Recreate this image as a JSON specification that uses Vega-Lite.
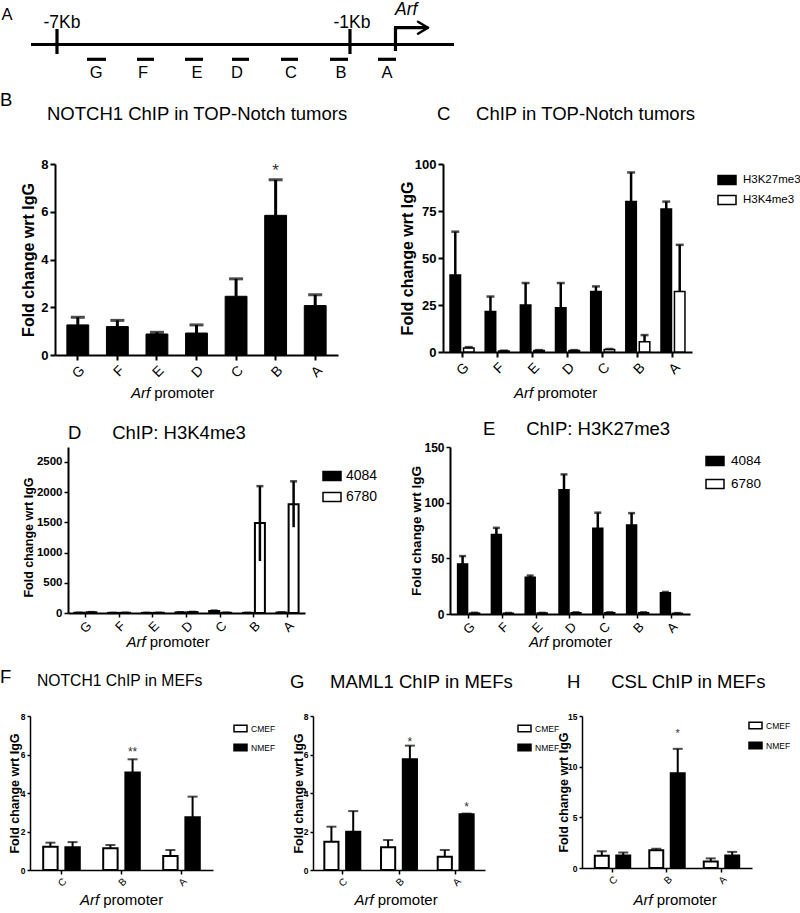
{
 "$schema": "https://vega.github.io/schema/vega-lite/v6.json",
 "padding": 0,
 "background": "white",
 "spacing": 0,
 "resolve": {"scale": {"fill": "independent", "xOffset": "independent"}, "legend": {"fill": "independent"}},
 "config": {
  "view": {"stroke": null},
  "font": "Liberation Sans",
  "axis": {"grid": false, "domainColor": "black", "tickColor": "black", "labelColor": "black", "titleColor": "black", "labelFont": "Liberation Sans", "titleFont": "Liberation Sans"},
  "title": {"color": "black", "font": "Liberation Sans", "fontWeight": "normal", "baseline": "bottom", "anchor": "start", "frame": "group"},
  "legend": {"labelColor": "black", "labelFont": "Liberation Sans"},
  "text": {"font": "Liberation Sans", "color": "black"}
 },
 "datasets": {
  "seg": [
   {"x": -7.532, "x2": 1.130, "y": 41.5, "y2": 41.5, "part": "line"},
   {"x": -7, "x2": -7, "y": 57, "y2": 32, "part": "tick"},
   {"x": -1, "x2": -1, "y": 57, "y2": 32, "part": "tick"},
   {"x": -0.068, "x2": -0.068, "y": 58.3, "y2": 35, "part": "tss"},
   {"x": -0.099, "x2": 0.578, "y": 58.3, "y2": 58.3, "part": "tss"},
   {"x": 0.393, "x2": 0.598, "y": 64.3, "y2": 58.3, "part": "arm"},
   {"x": 0.393, "x2": 0.598, "y": 52.3, "y2": 58.3, "part": "arm"},
   {"x": -6.385, "x2": -5.996, "y": 26.7, "y2": 26.7, "part": "region"},
   {"x": -5.361, "x2": -5.013, "y": 26.7, "y2": 26.7, "part": "region"},
   {"x": -4.378, "x2": -4.010, "y": 26.7, "y2": 26.7, "part": "region"},
   {"x": -3.416, "x2": -3.068, "y": 26.7, "y2": 26.7, "part": "region"},
   {"x": -2.413, "x2": -2.064, "y": 26.7, "y2": 26.7, "part": "region"},
   {"x": -1.409, "x2": -1.040, "y": 26.7, "y2": 26.7, "part": "region"},
   {"x": -0.426, "x2": -0.057, "y": 26.7, "y2": 26.7, "part": "region"}
  ],
  "txt": [
   {"x": -6.897, "y": 63.2, "label": "-7Kb", "kind": "kb"},
   {"x": -0.958, "y": 63.2, "label": "-1Kb", "kind": "kb"},
   {"x": -0.078, "y": 76, "label": "Arf", "kind": "gene"},
   {"x": -8.024, "y": 71, "label": "A", "kind": "reg"},
   {"x": -6.200, "y": 13.3, "label": "G", "kind": "reg"},
   {"x": -5.238, "y": 13.3, "label": "F", "kind": "reg"},
   {"x": -4.132, "y": 13.3, "label": "E", "kind": "reg"},
   {"x": -3.313, "y": 13.3, "label": "D", "kind": "reg"},
   {"x": -2.208, "y": 13.3, "label": "C", "kind": "reg"},
   {"x": -1.184, "y": 13.3, "label": "B", "kind": "reg"},
   {"x": -0.242, "y": 13.3, "label": "A", "kind": "reg"}
  ],
  "B": [
   {"site": "G", "value": 1.26, "hi": 1.58},
   {"site": "F", "value": 1.19, "hi": 1.45},
   {"site": "E", "value": 0.88, "hi": 0.95},
   {"site": "D", "value": 0.92, "hi": 1.26},
   {"site": "C", "value": 2.46, "hi": 3.19},
   {"site": "B", "value": 5.85, "hi": 7.34, "star": "*", "sy": 7.93},
   {"site": "A", "value": 2.07, "hi": 2.52}
  ],
  "C": [
   {"site": "G", "series": "H3K27me3", "value": 41, "hi": 64},
   {"site": "F", "series": "H3K27me3", "value": 21.5, "hi": 29.5},
   {"site": "E", "series": "H3K27me3", "value": 25, "hi": 36.7},
   {"site": "D", "series": "H3K27me3", "value": 23.6, "hi": 36.7},
   {"site": "C", "series": "H3K27me3", "value": 32.2, "hi": 34.9},
   {"site": "B", "series": "H3K27me3", "value": 80, "hi": 95.5},
   {"site": "A", "series": "H3K27me3", "value": 76, "hi": 80},
   {"site": "G", "series": "H3K4me3", "value": 2.1, "hi": 2.6},
   {"site": "F", "series": "H3K4me3", "value": 0.5, "hi": 0.7},
   {"site": "E", "series": "H3K4me3", "value": 0.8, "hi": 1.0},
   {"site": "D", "series": "H3K4me3", "value": 0.8, "hi": 1.0},
   {"site": "C", "series": "H3K4me3", "value": 1.3, "hi": 1.6},
   {"site": "B", "series": "H3K4me3", "value": 5.4, "hi": 9},
   {"site": "A", "series": "H3K4me3", "value": 32.2, "hi": 57}
  ],
  "D": [
   {"site": "G", "series": "4084", "value": 3, "lo": 3, "hi": 4},
   {"site": "F", "series": "4084", "value": 2, "lo": 2, "hi": 2.5},
   {"site": "E", "series": "4084", "value": 2, "lo": 2, "hi": 2.5},
   {"site": "D", "series": "4084", "value": 10, "lo": 10, "hi": 12},
   {"site": "C", "series": "4084", "value": 35, "lo": 35, "hi": 40},
   {"site": "B", "series": "4084", "value": 2, "lo": 2, "hi": 3},
   {"site": "A", "series": "4084", "value": 8, "lo": 8, "hi": 10},
   {"site": "G", "series": "6780", "value": 12, "lo": 12, "hi": 14},
   {"site": "F", "series": "6780", "value": 3, "lo": 3, "hi": 4},
   {"site": "E", "series": "6780", "value": 3, "lo": 3, "hi": 4},
   {"site": "D", "series": "6780", "value": 15, "lo": 15, "hi": 18},
   {"site": "C", "series": "6780", "value": 4, "lo": 4, "hi": 5},
   {"site": "B", "series": "6780", "value": 1490, "lo": 860, "hi": 2100},
   {"site": "A", "series": "6780", "value": 1800, "lo": 1420, "hi": 2180}
  ],
  "E": [
   {"site": "G", "series": "4084", "value": 45, "hi": 52},
   {"site": "F", "series": "4084", "value": 71.4, "hi": 77.4},
   {"site": "E", "series": "4084", "value": 33, "hi": 34.5},
   {"site": "D", "series": "4084", "value": 111.6, "hi": 125.4},
   {"site": "C", "series": "4084", "value": 77, "hi": 91},
   {"site": "B", "series": "4084", "value": 80, "hi": 90.6},
   {"site": "A", "series": "4084", "value": 19, "hi": 19.8},
   {"site": "G", "series": "6780", "value": 0.8, "hi": 1.1},
   {"site": "F", "series": "6780", "value": 0.7, "hi": 0.9},
   {"site": "E", "series": "6780", "value": 0.8, "hi": 1.0},
   {"site": "D", "series": "6780", "value": 1.2, "hi": 1.5},
   {"site": "C", "series": "6780", "value": 1.2, "hi": 1.5},
   {"site": "B", "series": "6780", "value": 1.2, "hi": 1.5},
   {"site": "A", "series": "6780", "value": 0.6, "hi": 0.8}
  ],
  "F": [
   {"site": "C", "series": "CMEF", "value": 1.21, "hi": 1.42},
   {"site": "B", "series": "CMEF", "value": 1.13, "hi": 1.30},
   {"site": "A", "series": "CMEF", "value": 0.73, "hi": 1.04},
   {"site": "C", "series": "NMEF", "value": 1.18, "hi": 1.45},
   {"site": "B", "series": "NMEF", "value": 5.06, "hi": 5.75, "star": "**", "sy": 6.34},
   {"site": "A", "series": "NMEF", "value": 2.74, "hi": 3.81}
  ],
  "G": [
   {"site": "C", "series": "CMEF", "value": 1.47, "hi": 2.25},
   {"site": "B", "series": "CMEF", "value": 1.18, "hi": 1.56},
   {"site": "A", "series": "CMEF", "value": 0.69, "hi": 1.04},
   {"site": "C", "series": "NMEF", "value": 1.99, "hi": 3.06},
   {"site": "B", "series": "NMEF", "value": 5.75, "hi": 6.46, "star": "*", "sy": 6.86},
   {"site": "A", "series": "NMEF", "value": 2.89, "hi": 2.93, "star": "*", "sy": 3.48}
  ],
  "H": [
   {"site": "C", "series": "CMEF", "value": 1.21, "hi": 1.65},
   {"site": "B", "series": "CMEF", "value": 1.75, "hi": 1.90},
   {"site": "A", "series": "CMEF", "value": 0.64, "hi": 0.95},
   {"site": "C", "series": "NMEF", "value": 1.24, "hi": 1.53},
   {"site": "B", "series": "NMEF", "value": 9.34, "hi": 11.76, "star": "*", "sy": 13.57},
   {"site": "A", "series": "NMEF", "value": 1.24, "hi": 1.59}
  ]
 },
 "vconcat": [
  {
   "spacing": 0, "bounds": "flush",
   "resolve": {"scale": {"fill": "independent", "xOffset": "independent"}, "legend": {"fill": "independent"}},
   "hconcat": [
    {
     "width": 480, "height": 85,
     "encoding": {
      "x": {"field": "x", "type": "quantitative", "scale": {"domain": [-8.167, 1.663], "nice": false, "zero": false}, "axis": null},
      "y": {"field": "y", "type": "quantitative", "scale": {"domain": [0, 85], "nice": false, "zero": false}, "axis": null}
     },
     "layer": [
      {"data": {"name": "seg"}, "transform": [{"filter": "datum.part != 'arm'"}], "mark": {"type": "rule", "strokeWidth": 3.2, "color": "black"}, "encoding": {"x2": {"field": "x2"}, "y2": {"field": "y2"}}},
      {"data": {"name": "seg"}, "transform": [{"filter": "datum.part == 'arm'"}], "mark": {"type": "rule", "strokeWidth": 2.5, "color": "black", "strokeCap": "round"}, "encoding": {"x2": {"field": "x2"}, "y2": {"field": "y2"}}},
      {"data": {"name": "txt"}, "transform": [{"filter": "datum.kind == 'kb'"}], "mark": {"type": "text", "fontSize": 17.5, "align": "center", "baseline": "middle"}, "encoding": {"text": {"field": "label"}}},
      {"data": {"name": "txt"}, "transform": [{"filter": "datum.kind == 'gene'"}], "mark": {"type": "text", "fontSize": 17.5, "fontStyle": "italic", "align": "left", "baseline": "middle"}, "encoding": {"text": {"field": "label"}}},
      {"data": {"name": "txt"}, "transform": [{"filter": "datum.kind == 'reg'"}], "mark": {"type": "text", "fontSize": 16.5, "align": "center", "baseline": "middle"}, "encoding": {"text": {"field": "label"}}}
     ]
    },
    {"width": 1, "height": 90, "data": {"values": []}, "mark": "point", "encoding": {}}
   ]
  },
  {
   "spacing": 0, "bounds": "flush",
   "resolve": {"scale": {"fill": "independent", "xOffset": "independent"}, "legend": {"fill": "independent"}},
   "hconcat": [
    {"width": 55, "height": 256, "data": {"values": []}, "mark": "point", "encoding": {}, "title": {"text": "B", "fontSize": 18.5, "offset": 54.5}},
    {
     "width": 283, "height": 191,
     "data": {"name": "B"},
     "title": {"text": "NOTCH1 ChIP in TOP-Notch tumors", "fontSize": 18.5, "dx": -8, "offset": 34.5},
     "resolve": {"axis": {"x": "independent"}},
     "encoding": {
      "x": {"field": "site", "type": "nominal", "sort": ["G","F","E","D","C","B","A"], "scale": {"paddingInner": 0.448, "paddingOuter": 0.3}, "axis": null}
     },
     "layer": [
      {"mark": {"type": "bar", "fill": "black", "stroke": "black", "strokeWidth": 1},
       "encoding": {
        "x": {"field": "site", "type": "nominal", "sort": ["G","F","E","D","C","B","A"], "scale": {"paddingInner": 0.448, "paddingOuter": 0.3},
              "axis": {"orient": "bottom", "title": "promoter", "titleX": 128.7, "titleY": 42.4, "titleBaseline": "alphabetic", "titleAlign": "center", "titleFontSize": 15, "titleFontWeight": "normal", "labelAngle": -45, "labelFontSize": 14, "labelPadding": 3, "tickSize": 5, "tickWidth": 2, "domainWidth": 2}},
        "y": {"field": "value", "type": "quantitative", "scale": {"domain": [0, 8], "nice": false},
              "axis": {"values": [0,2,4,6,8], "tickCount": 20, "format": "d", "labelOverlap": false, "title": "Fold change wrt IgG", "titleFontSize": 16, "titleFontWeight": "bold", "titleX": -21.5, "titleBaseline": "alphabetic", "labelFontSize": 13, "labelFontWeight": "bold", "labelPadding": 2, "tickSize": 5, "tickWidth": 2, "domainWidth": 2}}
       }},
      {"mark": {"type": "rule", "strokeWidth": 3, "color": "black"}, "encoding": {"y": {"field": "value", "type": "quantitative", "scale": {"domain": [0, 8], "nice": false}}, "y2": {"field": "hi"}}},
      {"mark": {"type": "tick", "thickness": 3, "size": 14, "color": "black"},
       "encoding": {
        "x": {"field": "site", "type": "nominal", "sort": ["G","F","E","D","C","B","A"], "scale": {"paddingInner": 0.448, "paddingOuter": 0.3},
              "axis": {"orient": "bottom", "title": "Arf", "titleFontStyle": "italic", "titleX": 85, "titleY": 42.4, "titleBaseline": "alphabetic", "titleAlign": "center", "titleFontSize": 15, "titleFontWeight": "normal", "labels": false, "ticks": false, "domain": false}},
        "y": {"field": "hi", "type": "quantitative", "scale": {"domain": [0, 8], "nice": false}}
       }},
      {"transform": [{"filter": "datum.star != null"}], "mark": {"type": "text", "fontSize": 17, "dy": 5, "color": "#333"}, "encoding": {"y": {"field": "sy", "type": "quantitative", "scale": {"domain": [0, 8], "nice": false}}, "text": {"field": "star"}}}
     ]
    },
    {"width": 105, "height": 1, "data": {"values": []}, "mark": "point", "encoding": {}},
    {
     "width": 249, "height": 188,
     "data": {"name": "C"},
     "title": {"text": "C\u00a0\u00a0\u00a0\u00a0\u00a0ChIP in TOP-Notch tumors", "fontSize": 18.5, "dx": -6, "offset": 34.5},
     "resolve": {"axis": {"x": "independent"}},
     "encoding": {
      "x": {"field": "site", "type": "nominal", "sort": ["G","F","E","D","C","B","A"], "scale": {"paddingInner": 0.318, "paddingOuter": 0.2}, "axis": null},
      "xOffset": {"field": "series", "type": "nominal", "sort": ["H3K27me3","H3K4me3"], "scale": {"paddingInner": 0.22, "paddingOuter": 0}}
     },
     "layer": [
      {"mark": {"type": "bar", "stroke": "black", "strokeWidth": 1.5},
       "encoding": {
        "x": {"field": "site", "type": "nominal", "sort": ["G","F","E","D","C","B","A"], "scale": {"paddingInner": 0.318, "paddingOuter": 0.2},
              "axis": {"orient": "bottom", "title": "promoter", "titleX": 123.7, "titleY": 45.4, "titleBaseline": "alphabetic", "titleAlign": "center", "titleFontSize": 15, "titleFontWeight": "normal", "labelAngle": -45, "labelFontSize": 14, "labelPadding": 3, "tickSize": 5, "tickWidth": 2, "domainWidth": 2}},
        "y": {"field": "value", "type": "quantitative", "scale": {"domain": [0, 100], "nice": false},
              "axis": {"values": [0,25,50,75,100], "tickCount": 20, "format": "d", "labelOverlap": false, "title": "Fold change wrt IgG", "titleFontSize": 16, "titleFontWeight": "bold", "titleX": -31, "titleBaseline": "alphabetic", "labelFontSize": 13, "labelFontWeight": "bold", "labelPadding": 2, "tickSize": 5, "tickWidth": 2, "domainWidth": 2}},
        "fill": {"field": "series", "type": "nominal", "scale": {"domain": ["H3K27me3","H3K4me3"], "range": ["black","white"]},
                 "legend": {"orient": "none", "legendX": 274, "legendY": 6, "title": null, "symbolType": "M-1,-0.5H1V0.5H-1Z", "symbolSize": 324, "labelFontSize": 11.5, "labelOffset": 6, "rowPadding": 2, "padding": 0,
                            "encode": {"symbols": {"update": {"stroke": {"value": "black"}, "strokeWidth": {"value": 1.5}}}}}}
       }},
      {"mark": {"type": "rule", "strokeWidth": 2.5, "color": "black"}, "encoding": {"y": {"field": "value", "type": "quantitative", "scale": {"domain": [0, 100], "nice": false}}, "y2": {"field": "hi"}}},
      {"mark": {"type": "tick", "thickness": 2.5, "size": 8, "color": "black"},
       "encoding": {
        "x": {"field": "site", "type": "nominal", "sort": ["G","F","E","D","C","B","A"], "scale": {"paddingInner": 0.318, "paddingOuter": 0.2},
              "axis": {"orient": "bottom", "title": "Arf", "titleFontStyle": "italic", "titleX": 80, "titleY": 45.4, "titleBaseline": "alphabetic", "titleAlign": "center", "titleFontSize": 15, "titleFontWeight": "normal", "labels": false, "ticks": false, "domain": false}},
        "y": {"field": "hi", "type": "quantitative", "scale": {"domain": [0, 100], "nice": false}}
       }}
     ]
    }
   ]
  },
  {
   "spacing": 0, "bounds": "flush",
   "resolve": {"scale": {"fill": "independent", "xOffset": "independent"}, "legend": {"fill": "independent"}},
   "hconcat": [
    {"width": 68, "height": 221, "data": {"values": []}, "mark": "point", "encoding": {}},
    {
     "width": 237, "height": 166,
     "data": {"name": "D"},
     "title": {"text": "D\u00a0\u00a0\u00a0\u00a0\u00a0\u00a0ChIP: H3K4me3", "fontSize": 18.5, "dx": 0, "offset": 5},
     "resolve": {"axis": {"x": "independent"}},
     "encoding": {
      "x": {"field": "site", "type": "nominal", "sort": ["G","F","E","D","C","B","A"], "scale": {"paddingInner": 0.347, "paddingOuter": 0.19}, "axis": null},
      "xOffset": {"field": "series", "type": "nominal", "sort": ["4084","6780"], "scale": {"paddingInner": 0.17, "paddingOuter": 0}}
     },
     "layer": [
      {"mark": {"type": "bar", "stroke": "black", "strokeWidth": 2},
       "encoding": {
        "x": {"field": "site", "type": "nominal", "sort": ["G","F","E","D","C","B","A"], "scale": {"paddingInner": 0.347, "paddingOuter": 0.19},
              "axis": {"orient": "bottom", "title": "promoter", "titleX": 111.2, "titleY": 33.4, "titleBaseline": "alphabetic", "titleAlign": "center", "titleFontSize": 15, "titleFontWeight": "normal", "labelAngle": -45, "labelFontSize": 13, "labelPadding": 2, "tickSize": 4, "tickWidth": 1.5, "domainWidth": 2}},
        "y": {"field": "value", "type": "quantitative", "scale": {"domain": [0, 2748], "nice": false},
              "axis": {"values": [0,500,1000,1500,2000,2500], "tickCount": 20, "format": "d", "labelOverlap": false, "title": "Fold change wrt IgG", "titleFontSize": 12.5, "titleFontWeight": "bold", "titleX": -36, "titleY": 90, "titleBaseline": "alphabetic", "labelFontSize": 11.5, "labelFontWeight": "bold", "labelPadding": 2, "tickSize": 4, "tickWidth": 1.5, "domainWidth": 2}},
        "fill": {"field": "series", "type": "nominal", "scale": {"domain": ["4084","6780"], "range": ["black","white"]},
                 "legend": {"orient": "none", "legendX": 254, "legendY": 19, "title": null, "symbolType": "M-1,-0.5H1V0.5H-1Z", "symbolSize": 324, "labelFontSize": 14, "labelOffset": 4, "rowPadding": 3, "padding": 0,
                            "encode": {"symbols": {"update": {"stroke": {"value": "black"}, "strokeWidth": {"value": 1.5}}}}}}
       }},
      {"mark": {"type": "rule", "strokeWidth": 2.5, "color": "black"}, "encoding": {"y": {"field": "lo", "type": "quantitative", "scale": {"domain": [0, 2748], "nice": false}}, "y2": {"field": "hi"}}},
      {"mark": {"type": "tick", "thickness": 2.5, "size": 7, "color": "black"},
       "encoding": {
        "x": {"field": "site", "type": "nominal", "sort": ["G","F","E","D","C","B","A"], "scale": {"paddingInner": 0.347, "paddingOuter": 0.19},
              "axis": {"orient": "bottom", "title": "Arf", "titleFontStyle": "italic", "titleX": 67.5, "titleY": 33.4, "titleBaseline": "alphabetic", "titleAlign": "center", "titleFontSize": 15, "titleFontWeight": "normal", "labels": false, "ticks": false, "domain": false}},
        "y": {"field": "hi", "type": "quantitative", "scale": {"domain": [0, 2748], "nice": false}}
       }}
     ]
    },
    {"width": 145, "height": 1, "data": {"values": []}, "mark": "point", "encoding": {}},
    {
     "width": 240, "height": 167,
     "data": {"name": "E"},
     "title": {"text": "E\u00a0\u00a0\u00a0\u00a0\u00a0\u00a0ChIP: H3K27me3", "fontSize": 18.5, "dx": 33, "offset": 2.5},
     "resolve": {"axis": {"x": "independent"}},
     "encoding": {
      "x": {"field": "site", "type": "nominal", "sort": ["G","F","E","D","C","B","A"], "scale": {"paddingInner": 0.35, "paddingOuter": 0.225}, "axis": null},
      "xOffset": {"field": "series", "type": "nominal", "sort": ["4084","6780"], "scale": {"paddingInner": 0.17, "paddingOuter": 0}}
     },
     "layer": [
      {"mark": {"type": "bar", "stroke": "black", "strokeWidth": 1.5},
       "encoding": {
        "x": {"field": "site", "type": "nominal", "sort": ["G","F","E","D","C","B","A"], "scale": {"paddingInner": 0.35, "paddingOuter": 0.225},
              "axis": {"orient": "bottom", "title": "promoter", "titleX": 131.7, "titleY": 32.4, "titleBaseline": "alphabetic", "titleAlign": "center", "titleFontSize": 15, "titleFontWeight": "normal", "labelAngle": -45, "labelFontSize": 13, "labelPadding": 2, "tickSize": 4, "tickWidth": 1.5, "domainWidth": 2}},
        "y": {"field": "value", "type": "quantitative", "scale": {"domain": [0, 150], "nice": false},
              "axis": {"values": [0,50,100,150], "tickCount": 20, "format": "d", "labelOverlap": false, "title": "Fold change wrt IgG", "titleFontSize": 13.5, "titleFontWeight": "bold", "titleX": -30, "titleBaseline": "alphabetic", "labelFontSize": 12, "labelFontWeight": "bold", "labelPadding": 2, "tickSize": 4, "tickWidth": 1.5, "domainWidth": 2}},
        "fill": {"field": "series", "type": "nominal", "scale": {"domain": ["4084","6780"], "range": ["black","white"]},
                 "legend": {"orient": "none", "legendX": 255, "legendY": 4, "title": null, "symbolType": "M-1,-0.5H1V0.5H-1Z", "symbolSize": 324, "labelFontSize": 13.5, "labelOffset": 6, "rowPadding": 5, "padding": 0,
                            "encode": {"symbols": {"update": {"stroke": {"value": "black"}, "strokeWidth": {"value": 1.5}}}}}}
       }},
      {"mark": {"type": "rule", "strokeWidth": 2.5, "color": "black"}, "encoding": {"y": {"field": "value", "type": "quantitative", "scale": {"domain": [0, 150], "nice": false}}, "y2": {"field": "hi"}}},
      {"mark": {"type": "tick", "thickness": 2.5, "size": 7, "color": "black"},
       "encoding": {
        "x": {"field": "site", "type": "nominal", "sort": ["G","F","E","D","C","B","A"], "scale": {"paddingInner": 0.35, "paddingOuter": 0.225},
              "axis": {"orient": "bottom", "title": "Arf", "titleFontStyle": "italic", "titleX": 88, "titleY": 32.4, "titleBaseline": "alphabetic", "titleAlign": "center", "titleFontSize": 15, "titleFontWeight": "normal", "labels": false, "ticks": false, "domain": false}},
        "y": {"field": "hi", "type": "quantitative", "scale": {"domain": [0, 150], "nice": false}}
       }}
     ]
    }
   ]
  },
  {
   "spacing": 0, "bounds": "flush",
   "resolve": {"scale": {"fill": "independent", "xOffset": "independent"}, "legend": {"fill": "independent"}},
   "hconcat": [
    {"width": 30, "height": 1, "data": {"values": []}, "mark": "point", "encoding": {}, "title": {"text": "F", "fontSize": 18.5, "offset": 29.5}},
    {
     "width": 183, "height": 154,
     "data": {"name": "F"},
     "title": {"text": "NOTCH1 ChIP in MEFs", "fontSize": 15.7, "dx": 7, "offset": 22},
     "resolve": {"axis": {"x": "independent"}},
     "encoding": {
      "x": {"field": "site", "type": "nominal", "sort": ["C","B","A"], "scale": {"paddingInner": 0.39, "paddingOuter": 0.22}, "axis": null},
      "xOffset": {"field": "series", "type": "nominal", "sort": ["CMEF","NMEF"], "scale": {"paddingInner": 0.35, "paddingOuter": 0}}
     },
     "layer": [
      {"mark": {"type": "bar", "stroke": "black", "strokeWidth": 2},
       "encoding": {
        "x": {"field": "site", "type": "nominal", "sort": ["C","B","A"], "scale": {"paddingInner": 0.39, "paddingOuter": 0.22},
              "axis": {"orient": "bottom", "title": "promoter", "titleX": 102.7, "titleY": 34.4, "titleBaseline": "alphabetic", "titleAlign": "center", "titleFontSize": 15, "titleFontWeight": "normal", "labelAngle": -45, "labelFontSize": 10, "labelPadding": 2, "tickSize": 4, "tickWidth": 1.5, "domainWidth": 1.5}},
        "y": {"field": "value", "type": "quantitative", "scale": {"domain": [0, 8], "nice": false},
              "axis": {"values": [0,2,4,6,8], "tickCount": 20, "format": "d", "labelOverlap": false, "title": "Fold change wrt IgG", "titleFontSize": 12.5, "titleFontWeight": "bold", "titleX": -12, "titleBaseline": "alphabetic", "labelFontSize": 8.5, "labelFontWeight": "bold", "labelPadding": 2, "tickSize": 3, "tickWidth": 1.5, "domainWidth": 1.5}},
        "fill": {"field": "series", "type": "nominal", "scale": {"domain": ["CMEF","NMEF"], "range": ["white","black"]},
                 "legend": {"orient": "none", "legendX": 203, "legendY": 5, "title": null, "symbolType": "M-1,-0.5H1V0.5H-1Z", "symbolSize": 169, "labelFontSize": 8.5, "labelOffset": 3, "rowPadding": 5, "padding": 0,
                            "encode": {"symbols": {"update": {"stroke": {"value": "black"}, "strokeWidth": {"value": 1.5}}}}}}
       }},
      {"mark": {"type": "rule", "strokeWidth": 2, "color": "black"}, "encoding": {"y": {"field": "value", "type": "quantitative", "scale": {"domain": [0, 8], "nice": false}}, "y2": {"field": "hi"}}},
      {"mark": {"type": "tick", "thickness": 2, "size": 10, "color": "black"},
       "encoding": {
        "x": {"field": "site", "type": "nominal", "sort": ["C","B","A"], "scale": {"paddingInner": 0.39, "paddingOuter": 0.22},
              "axis": {"orient": "bottom", "title": "Arf", "titleFontStyle": "italic", "titleX": 59, "titleY": 34.4, "titleBaseline": "alphabetic", "titleAlign": "center", "titleFontSize": 15, "titleFontWeight": "normal", "labels": false, "ticks": false, "domain": false}},
        "y": {"field": "hi", "type": "quantitative", "scale": {"domain": [0, 8], "nice": false}}
       }},
      {"transform": [{"filter": "datum.star != null"}], "mark": {"type": "text", "fontSize": 12, "dy": 3.6, "color": "#333"}, "encoding": {"y": {"field": "sy", "type": "quantitative", "scale": {"domain": [0, 8], "nice": false}}, "text": {"field": "star"}}}
     ]
    },
    {"width": 100, "height": 1, "data": {"values": []}, "mark": "point", "encoding": {}},
    {
     "width": 172, "height": 154,
     "data": {"name": "G"},
     "title": {"text": "G\u00a0\u00a0\u00a0\u00a0\u00a0MAML1 ChIP in MEFs", "fontSize": 18.5, "dx": -23, "offset": 20.5},
     "resolve": {"axis": {"x": "independent"}},
     "encoding": {
      "x": {"field": "site", "type": "nominal", "sort": ["C","B","A"], "scale": {"paddingInner": 0.366, "paddingOuter": 0.2}, "axis": null},
      "xOffset": {"field": "series", "type": "nominal", "sort": ["CMEF","NMEF"], "scale": {"paddingInner": 0.35, "paddingOuter": 0}}
     },
     "layer": [
      {"mark": {"type": "bar", "stroke": "black", "strokeWidth": 2},
       "encoding": {
        "x": {"field": "site", "type": "nominal", "sort": ["C","B","A"], "scale": {"paddingInner": 0.366, "paddingOuter": 0.2},
              "axis": {"orient": "bottom", "title": "promoter", "titleX": 94.2, "titleY": 34.4, "titleBaseline": "alphabetic", "titleAlign": "center", "titleFontSize": 15, "titleFontWeight": "normal", "labelAngle": -45, "labelFontSize": 10, "labelPadding": 2, "tickSize": 4, "tickWidth": 1.5, "domainWidth": 1.5}},
        "y": {"field": "value", "type": "quantitative", "scale": {"domain": [0, 8], "nice": false},
              "axis": {"values": [0,2,4,6,8], "tickCount": 20, "format": "d", "labelOverlap": false, "title": "Fold change wrt IgG", "titleFontSize": 12.5, "titleFontWeight": "bold", "titleX": -11, "titleBaseline": "alphabetic", "labelFontSize": 8.5, "labelFontWeight": "bold", "labelPadding": 2, "tickSize": 3, "tickWidth": 1.5, "domainWidth": 1.5}},
        "fill": {"field": "series", "type": "nominal", "scale": {"domain": ["CMEF","NMEF"], "range": ["white","black"]},
                 "legend": {"orient": "none", "legendX": 204, "legendY": 5, "title": null, "symbolType": "M-1,-0.5H1V0.5H-1Z", "symbolSize": 169, "labelFontSize": 8.5, "labelOffset": 3, "rowPadding": 5, "padding": 0,
                            "encode": {"symbols": {"update": {"stroke": {"value": "black"}, "strokeWidth": {"value": 1.5}}}}}}
       }},
      {"mark": {"type": "rule", "strokeWidth": 2, "color": "black"}, "encoding": {"y": {"field": "value", "type": "quantitative", "scale": {"domain": [0, 8], "nice": false}}, "y2": {"field": "hi"}}},
      {"mark": {"type": "tick", "thickness": 2, "size": 10, "color": "black"},
       "encoding": {
        "x": {"field": "site", "type": "nominal", "sort": ["C","B","A"], "scale": {"paddingInner": 0.366, "paddingOuter": 0.2},
              "axis": {"orient": "bottom", "title": "Arf", "titleFontStyle": "italic", "titleX": 50.5, "titleY": 34.4, "titleBaseline": "alphabetic", "titleAlign": "center", "titleFontSize": 15, "titleFontWeight": "normal", "labels": false, "ticks": false, "domain": false}},
        "y": {"field": "hi", "type": "quantitative", "scale": {"domain": [0, 8], "nice": false}}
       }},
      {"transform": [{"filter": "datum.star != null"}], "mark": {"type": "text", "fontSize": 12, "dy": 3.6, "color": "#333"}, "encoding": {"y": {"field": "sy", "type": "quantitative", "scale": {"domain": [0, 8], "nice": false}}, "text": {"field": "star"}}}
     ]
    },
    {"width": 97, "height": 1, "data": {"values": []}, "mark": "point", "encoding": {}},
    {
     "width": 170, "height": 152,
     "data": {"name": "H"},
     "title": {"text": "H\u00a0\u00a0\u00a0\u00a0\u00a0\u00a0CSL ChIP in MEFs", "fontSize": 18.5, "dx": -15, "offset": 20.5},
     "resolve": {"axis": {"x": "independent"}},
     "encoding": {
      "x": {"field": "site", "type": "nominal", "sort": ["C","B","A"], "scale": {"paddingInner": 0.35, "paddingOuter": 0.235}, "axis": null},
      "xOffset": {"field": "series", "type": "nominal", "sort": ["CMEF","NMEF"], "scale": {"paddingInner": 0.35, "paddingOuter": 0}}
     },
     "layer": [
      {"mark": {"type": "bar", "stroke": "black", "strokeWidth": 2},
       "encoding": {
        "x": {"field": "site", "type": "nominal", "sort": ["C","B","A"], "scale": {"paddingInner": 0.35, "paddingOuter": 0.235},
              "axis": {"orient": "bottom", "title": "promoter", "titleX": 104.2, "titleY": 36.4, "titleBaseline": "alphabetic", "titleAlign": "center", "titleFontSize": 15, "titleFontWeight": "normal", "labelAngle": -45, "labelFontSize": 10, "labelPadding": 2, "tickSize": 4, "tickWidth": 1.5, "domainWidth": 1.5}},
        "y": {"field": "value", "type": "quantitative", "scale": {"domain": [0, 15], "nice": false},
              "axis": {"values": [0,5,10,15], "tickCount": 20, "format": "d", "labelOverlap": false, "title": "Fold change wrt IgG", "titleFontSize": 12.5, "titleFontWeight": "bold", "titleX": -15, "titleBaseline": "alphabetic", "labelFontSize": 8.5, "labelFontWeight": "bold", "labelPadding": 2, "tickSize": 3, "tickWidth": 1.5, "domainWidth": 1.5}},
        "fill": {"field": "series", "type": "nominal", "scale": {"domain": ["CMEF","NMEF"], "range": ["white","black"]},
                 "legend": {"orient": "none", "legendX": 166, "legendY": 2, "title": null, "symbolType": "M-1,-0.5H1V0.5H-1Z", "symbolSize": 169, "labelFontSize": 8.5, "labelOffset": 3, "rowPadding": 6, "padding": 0,
                            "encode": {"symbols": {"update": {"stroke": {"value": "black"}, "strokeWidth": {"value": 1.5}}}}}}
       }},
      {"mark": {"type": "rule", "strokeWidth": 2, "color": "black"}, "encoding": {"y": {"field": "value", "type": "quantitative", "scale": {"domain": [0, 15], "nice": false}}, "y2": {"field": "hi"}}},
      {"mark": {"type": "tick", "thickness": 2, "size": 10, "color": "black"},
       "encoding": {
        "x": {"field": "site", "type": "nominal", "sort": ["C","B","A"], "scale": {"paddingInner": 0.35, "paddingOuter": 0.235},
              "axis": {"orient": "bottom", "title": "Arf", "titleFontStyle": "italic", "titleX": 60.5, "titleY": 36.4, "titleBaseline": "alphabetic", "titleAlign": "center", "titleFontSize": 15, "titleFontWeight": "normal", "labels": false, "ticks": false, "domain": false}},
        "y": {"field": "hi", "type": "quantitative", "scale": {"domain": [0, 15], "nice": false}}
       }},
      {"transform": [{"filter": "datum.star != null"}], "mark": {"type": "text", "fontSize": 11, "dy": 3.3, "color": "#333"}, "encoding": {"y": {"field": "sy", "type": "quantitative", "scale": {"domain": [0, 15], "nice": false}}, "text": {"field": "star"}}}
     ]
    }
   ]
  }
 ]
}
